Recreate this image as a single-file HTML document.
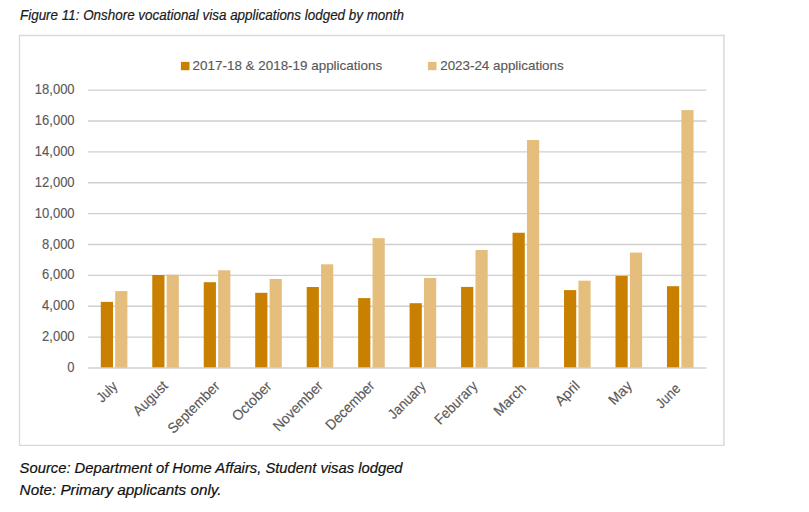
<!DOCTYPE html>
<html><head><meta charset="utf-8"><title>Figure 11</title>
<style>html,body{margin:0;padding:0;background:#fff;width:809px;height:512px;overflow:hidden;font-family:"Liberation Sans",sans-serif}svg{display:block}</style>
</head><body>
<svg width="809" height="512" viewBox="0 0 809 512">
<path d="M19.5 35.5H723.9M19.5 445.3H723.9M19.5 35.5V445.3" stroke="#D9D9D9" stroke-width="1.3" fill="none" stroke-linecap="square"/>
<path d="M723.9 35.5V445.3" stroke="#D9D9D9" stroke-width="1.5" fill="none" stroke-linecap="square"/>
<line x1="88.0" x2="706.4" y1="90.09" y2="90.09" stroke="#CFCFCF" stroke-width="1.4"/>
<line x1="88.0" x2="706.4" y1="120.96" y2="120.96" stroke="#CFCFCF" stroke-width="1.4"/>
<line x1="88.0" x2="706.4" y1="151.84" y2="151.84" stroke="#CFCFCF" stroke-width="1.4"/>
<line x1="88.0" x2="706.4" y1="182.71" y2="182.71" stroke="#CFCFCF" stroke-width="1.4"/>
<line x1="88.0" x2="706.4" y1="213.59" y2="213.59" stroke="#CFCFCF" stroke-width="1.4"/>
<line x1="88.0" x2="706.4" y1="244.46" y2="244.46" stroke="#CFCFCF" stroke-width="1.4"/>
<line x1="88.0" x2="706.4" y1="275.33" y2="275.33" stroke="#CFCFCF" stroke-width="1.4"/>
<line x1="88.0" x2="706.4" y1="306.21" y2="306.21" stroke="#CFCFCF" stroke-width="1.4"/>
<line x1="88.0" x2="706.4" y1="337.08" y2="337.08" stroke="#CFCFCF" stroke-width="1.4"/>
<rect x="100.80" y="301.90" width="12.2" height="66.06" fill="#C98000"/>
<rect x="115.20" y="291.10" width="12.2" height="76.86" fill="#E5BE7D"/>
<rect x="152.27" y="275.00" width="12.2" height="92.96" fill="#C98000"/>
<rect x="166.67" y="274.70" width="12.2" height="93.26" fill="#E5BE7D"/>
<rect x="203.74" y="282.20" width="12.2" height="85.76" fill="#C98000"/>
<rect x="218.14" y="270.30" width="12.2" height="97.66" fill="#E5BE7D"/>
<rect x="255.21" y="292.80" width="12.2" height="75.16" fill="#C98000"/>
<rect x="269.61" y="279.00" width="12.2" height="88.96" fill="#E5BE7D"/>
<rect x="306.68" y="287.00" width="12.2" height="80.96" fill="#C98000"/>
<rect x="321.08" y="264.30" width="12.2" height="103.66" fill="#E5BE7D"/>
<rect x="358.15" y="298.10" width="12.2" height="69.86" fill="#C98000"/>
<rect x="372.55" y="238.15" width="12.2" height="129.81" fill="#E5BE7D"/>
<rect x="409.62" y="303.20" width="12.2" height="64.76" fill="#C98000"/>
<rect x="424.02" y="278.00" width="12.2" height="89.96" fill="#E5BE7D"/>
<rect x="461.09" y="286.90" width="12.2" height="81.06" fill="#C98000"/>
<rect x="475.49" y="250.00" width="12.2" height="117.96" fill="#E5BE7D"/>
<rect x="512.56" y="232.75" width="12.2" height="135.21" fill="#C98000"/>
<rect x="526.96" y="140.00" width="12.2" height="227.96" fill="#E5BE7D"/>
<rect x="564.03" y="290.10" width="12.2" height="77.86" fill="#C98000"/>
<rect x="578.43" y="280.70" width="12.2" height="87.26" fill="#E5BE7D"/>
<rect x="615.50" y="275.90" width="12.2" height="92.06" fill="#C98000"/>
<rect x="629.90" y="252.60" width="12.2" height="115.36" fill="#E5BE7D"/>
<rect x="666.97" y="286.20" width="12.2" height="81.76" fill="#C98000"/>
<rect x="681.37" y="110.10" width="12.2" height="257.86" fill="#E5BE7D"/>
<line x1="88.0" x2="706.4" y1="368.06" y2="368.06" stroke="#CFCFCF" stroke-width="1.5"/>
<rect x="180.9" y="61.9" width="8.6" height="8.3" fill="#C98000"/>
<rect x="427.9" y="61.9" width="8.6" height="8.3" fill="#E5BE7D"/>
<text x="192.6" y="70.4" font-family="Liberation Sans, sans-serif" font-size="13.3" fill="#595959" stroke="#595959" stroke-width="0.15" textLength="189.5" lengthAdjust="spacingAndGlyphs">2017-18 &amp; 2018-19 applications</text>
<text x="440.2" y="70.4" font-family="Liberation Sans, sans-serif" font-size="13.3" fill="#595959" stroke="#595959" stroke-width="0.15" textLength="123.5" lengthAdjust="spacingAndGlyphs">2023-24 applications</text>
<text x="74.6" y="94.19" font-family="Liberation Sans, sans-serif" font-size="13.8" fill="#595959" stroke="#595959" stroke-width="0.12" text-anchor="end" textLength="39.75" lengthAdjust="spacingAndGlyphs">18,000</text>
<text x="74.6" y="125.06" font-family="Liberation Sans, sans-serif" font-size="13.8" fill="#595959" stroke="#595959" stroke-width="0.12" text-anchor="end" textLength="39.75" lengthAdjust="spacingAndGlyphs">16,000</text>
<text x="74.6" y="155.94" font-family="Liberation Sans, sans-serif" font-size="13.8" fill="#595959" stroke="#595959" stroke-width="0.12" text-anchor="end" textLength="39.75" lengthAdjust="spacingAndGlyphs">14,000</text>
<text x="74.6" y="186.81" font-family="Liberation Sans, sans-serif" font-size="13.8" fill="#595959" stroke="#595959" stroke-width="0.12" text-anchor="end" textLength="39.75" lengthAdjust="spacingAndGlyphs">12,000</text>
<text x="74.6" y="217.69" font-family="Liberation Sans, sans-serif" font-size="13.8" fill="#595959" stroke="#595959" stroke-width="0.12" text-anchor="end" textLength="39.75" lengthAdjust="spacingAndGlyphs">10,000</text>
<text x="74.6" y="248.56" font-family="Liberation Sans, sans-serif" font-size="13.8" fill="#595959" stroke="#595959" stroke-width="0.12" text-anchor="end" textLength="32.53" lengthAdjust="spacingAndGlyphs">8,000</text>
<text x="74.6" y="279.43" font-family="Liberation Sans, sans-serif" font-size="13.8" fill="#595959" stroke="#595959" stroke-width="0.12" text-anchor="end" textLength="32.53" lengthAdjust="spacingAndGlyphs">6,000</text>
<text x="74.6" y="310.31" font-family="Liberation Sans, sans-serif" font-size="13.8" fill="#595959" stroke="#595959" stroke-width="0.12" text-anchor="end" textLength="32.53" lengthAdjust="spacingAndGlyphs">4,000</text>
<text x="74.6" y="341.18" font-family="Liberation Sans, sans-serif" font-size="13.8" fill="#595959" stroke="#595959" stroke-width="0.12" text-anchor="end" textLength="32.53" lengthAdjust="spacingAndGlyphs">2,000</text>
<text x="74.6" y="372.06" font-family="Liberation Sans, sans-serif" font-size="13.8" fill="#595959" stroke="#595959" stroke-width="0.12" text-anchor="end" textLength="7.23" lengthAdjust="spacingAndGlyphs">0</text>
<text x="118.27" y="387.25" font-family="Liberation Sans, sans-serif" font-size="14.4" fill="#595959" stroke="#595959" stroke-width="0.15" text-anchor="end" textLength="22.74" lengthAdjust="spacingAndGlyphs" transform="rotate(-45 118.27 387.25)">July</text>
<text x="168.60" y="386.90" font-family="Liberation Sans, sans-serif" font-size="14.4" fill="#595959" stroke="#595959" stroke-width="0.15" text-anchor="end" textLength="42.11" lengthAdjust="spacingAndGlyphs" transform="rotate(-45 168.60 386.90)">August</text>
<text x="220.67" y="387.10" font-family="Liberation Sans, sans-serif" font-size="14.4" fill="#595959" stroke="#595959" stroke-width="0.15" text-anchor="end" textLength="66.83" lengthAdjust="spacingAndGlyphs" transform="rotate(-45 220.67 387.10)">September</text>
<text x="272.61" y="387.10" font-family="Liberation Sans, sans-serif" font-size="14.4" fill="#595959" stroke="#595959" stroke-width="0.15" text-anchor="end" textLength="49.45" lengthAdjust="spacingAndGlyphs" transform="rotate(-45 272.61 387.10)">October</text>
<text x="323.88" y="386.80" font-family="Liberation Sans, sans-serif" font-size="14.4" fill="#595959" stroke="#595959" stroke-width="0.15" text-anchor="end" textLength="63.96" lengthAdjust="spacingAndGlyphs" transform="rotate(-45 323.88 386.80)">November</text>
<text x="375.56" y="386.65" font-family="Liberation Sans, sans-serif" font-size="14.4" fill="#595959" stroke="#595959" stroke-width="0.15" text-anchor="end" textLength="62.63" lengthAdjust="spacingAndGlyphs" transform="rotate(-45 375.56 386.65)">December</text>
<text x="426.75" y="387.15" font-family="Liberation Sans, sans-serif" font-size="14.4" fill="#595959" stroke="#595959" stroke-width="0.15" text-anchor="end" textLength="46.62" lengthAdjust="spacingAndGlyphs" transform="rotate(-45 426.75 387.15)">January</text>
<text x="478.58" y="387.05" font-family="Liberation Sans, sans-serif" font-size="14.4" fill="#595959" stroke="#595959" stroke-width="0.15" text-anchor="end" textLength="54.19" lengthAdjust="spacingAndGlyphs" transform="rotate(-45 478.58 387.05)">Feburary</text>
<text x="527.11" y="389.10" font-family="Liberation Sans, sans-serif" font-size="14.4" fill="#595959" stroke="#595959" stroke-width="0.15" text-anchor="end" textLength="39.20" lengthAdjust="spacingAndGlyphs" transform="rotate(-45 527.11 389.10)">March</text>
<text x="580.79" y="386.70" font-family="Liberation Sans, sans-serif" font-size="14.4" fill="#595959" stroke="#595959" stroke-width="0.15" text-anchor="end" textLength="28.48" lengthAdjust="spacingAndGlyphs" transform="rotate(-45 580.79 386.70)">April</text>
<text x="633.02" y="386.85" font-family="Liberation Sans, sans-serif" font-size="14.4" fill="#595959" stroke="#595959" stroke-width="0.15" text-anchor="end" textLength="26.62" lengthAdjust="spacingAndGlyphs" transform="rotate(-45 633.02 386.85)">May</text>
<text x="681.25" y="389.55" font-family="Liberation Sans, sans-serif" font-size="14.4" fill="#595959" stroke="#595959" stroke-width="0.15" text-anchor="end" textLength="27.82" lengthAdjust="spacingAndGlyphs" transform="rotate(-45 681.25 389.55)">June</text>
<text x="20" y="19.7" font-family="Liberation Sans, sans-serif" font-style="italic" font-size="13.9" fill="#1a1a1a" stroke="#1a1a1a" stroke-width="0.2" textLength="384" lengthAdjust="spacingAndGlyphs">Figure 11: Onshore vocational visa applications lodged by month</text>
<text x="19.6" y="472.9" font-family="Liberation Sans, sans-serif" font-style="italic" font-size="14.6" fill="#111" stroke="#111" stroke-width="0.2" textLength="383" lengthAdjust="spacingAndGlyphs">Source: Department of Home Affairs, Student visas lodged</text>
<text x="19.6" y="494.9" font-family="Liberation Sans, sans-serif" font-style="italic" font-size="14.6" fill="#111" stroke="#111" stroke-width="0.2" textLength="202" lengthAdjust="spacingAndGlyphs">Note: Primary applicants only.</text>
</svg>
</body></html>
